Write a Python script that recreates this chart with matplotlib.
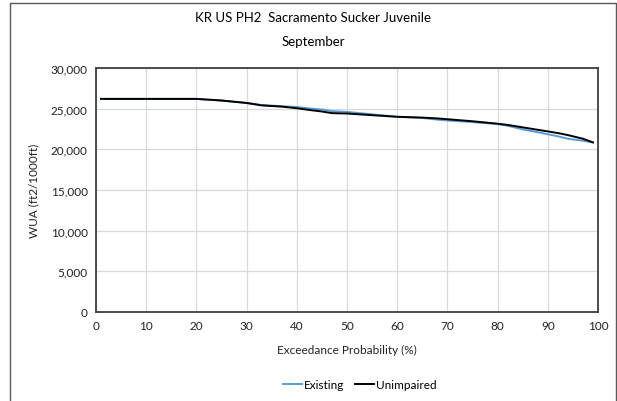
import matplotlib.pyplot as plt
from matplotlib.lines import Line2D

plt.rcParams['font.family'] = ['Lato', 'DejaVu Sans']

# exceedance probability (%)
prob = [1, 5, 10, 15, 20, 25, 30, 33, 37, 40, 43, 45, 47, 50, 55, 60, 65,
        68, 70, 75, 80, 82, 85, 88, 90, 92, 94, 97, 99]
existing = [26200, 26200, 26200, 26200, 26200, 26000, 25700, 25450, 25300,
            25200, 25000, 24900, 24700, 24600, 24300, 24000, 23850,
            23650, 23550, 23350, 23100, 22900, 22450, 22100, 21850, 21600,
            21300, 21050, 20850]
unimpaired = [26200, 26200, 26200, 26200, 26200, 26000, 25700, 25400, 25250,
              25050, 24800, 24650, 24450, 24400, 24200, 24000, 23900,
              23800, 23700, 23450, 23150, 23000, 22700, 22400, 22200, 22000,
              21750, 21300, 20850]

fig = plt.figure(figsize=(6.17, 4.02), dpi=100)
ax = fig.add_axes([0.1556, 0.2214, 0.8136, 0.607])

ax.plot(prob, existing, color='#5B9BD5', lw=1.4, label='Existing')
ax.plot(prob, unimpaired, color='black', lw=1.4, label='Unimpaired')

ax.set_xlim(0, 100)
ax.set_ylim(0, 30000)
ax.set_xticks(range(0, 101, 10))
ax.set_yticks(range(0, 30001, 5000))
ax.yaxis.set_major_formatter(plt.FuncFormatter(lambda v, p: f'{int(v):,}'))
ax.tick_params(length=0, labelsize=8.5, pad=6, colors='#222222')
ax.grid(True, color='#D9D9D9', lw=0.9)
ax.set_axisbelow(True)
for s in ax.spines.values():
    s.set_color('#3F3F3F')
    s.set_linewidth(1.3)

ax.set_xlabel('Exceedance Probability (%)', fontsize=8.5, color='#222222', labelpad=9)
ax.set_ylabel('WUA (ft2/1000ft)', fontsize=8.5, color='#222222', labelpad=8)
fig.text(0.507, 0.955, 'KR US PH2  Sacramento Sucker Juvenile', ha='center', va='center', fontsize=9.5)
fig.text(0.507, 0.895, 'September', ha='center', va='center', fontsize=9.5)

fig.legend(loc='center', bbox_to_anchor=(0.583, 0.04), ncol=2, frameon=False,
           fontsize=8.5, handlelength=1.6, handletextpad=0.2, columnspacing=0.9)

# outer frame (left, top, right)
fig.add_artist(Line2D([0.016, 0.016, 0.998, 0.998], [0.0, 0.99, 0.99, 0.0],
                      transform=fig.transFigure, color='#595959', lw=1.0))

fig.savefig('out.png', dpi=100)
